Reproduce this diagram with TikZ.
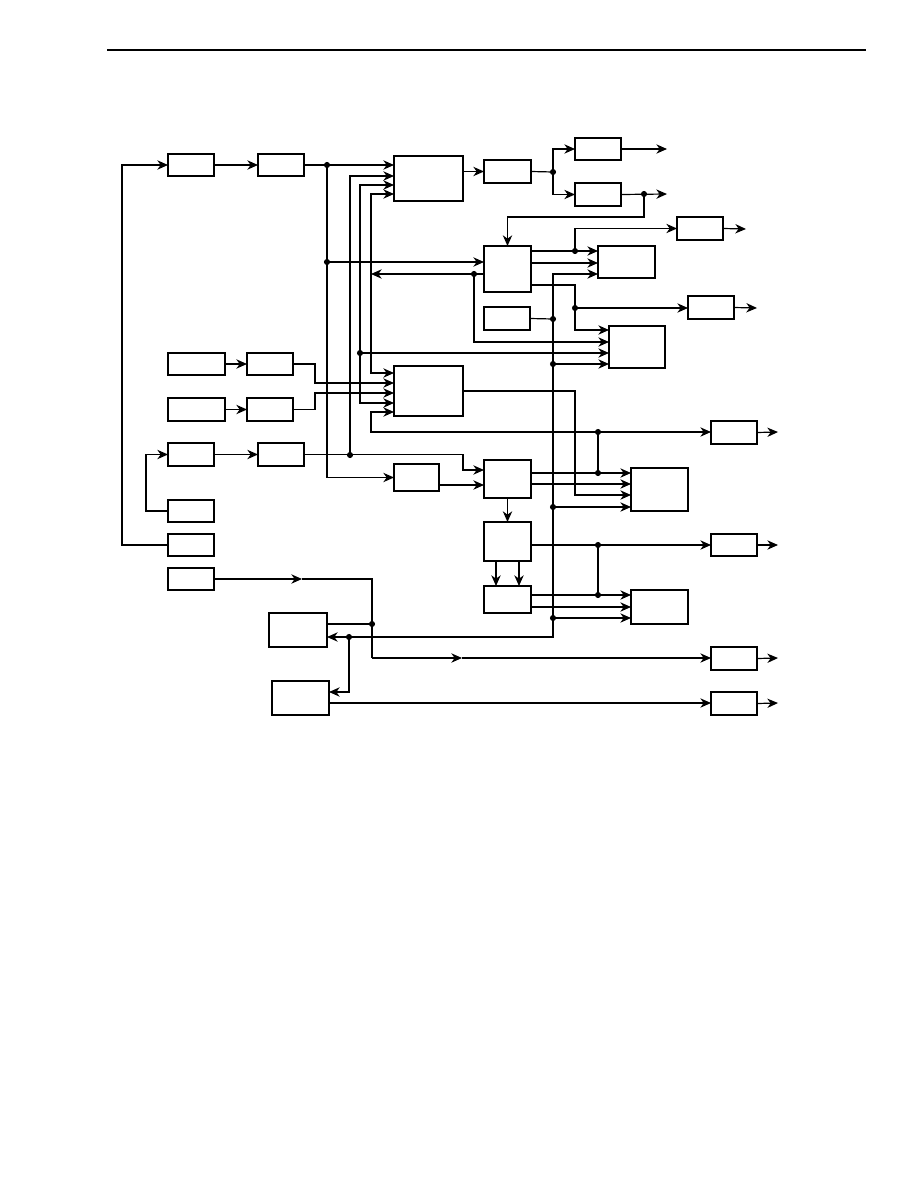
\documentclass[tikz,border=0pt]{standalone}
\usetikzlibrary{arrows.meta}
\begin{document}
\begin{tikzpicture}[x=0.75pt,y=-0.75pt,line width=0.9pt,
  box/.style 2 args={draw,rectangle,inner sep=0pt,outer sep=0pt,anchor=north west,
    minimum width=#1*0.75pt,minimum height=#2*0.75pt},
  arr/.style={-{Stealth[length=8pt,width=7pt,inset=2.5pt]}}]
\useasboundingbox (0,0) rectangle (918,1188);
\draw[line width=2.2pt] (107,50) -- (866,50);

% blocks, left column
\node[box={46}{22}] (A1) at (168,154) {};
\node[box={46}{22}] (A2) at (258,154) {};
\node[box={57}{22}] (P1) at (168,353) {};
\node[box={46}{22}] (P2) at (247,353) {};
\node[box={57}{23}] (Q1) at (168,398) {};
\node[box={46}{23}] (Q2) at (247,398) {};
\node[box={46}{23}] (S1) at (168,443) {};
\node[box={46}{23}] (S2) at (258,443) {};
\node[box={46}{22}] (S3) at (168,500) {};
\node[box={46}{22}] (Rt) at (168,534) {};
\node[box={46}{22}] (U) at (168,568) {};
\node[box={58}{34}] (K) at (269,613) {};
\node[box={57}{34}] (W) at (272,681) {};
% blocks, middle
\node[box={69}{45}] (B) at (394,156) {};
\node[box={69}{50}] (I) at (394,366) {};
\node[box={45}{27}] (T) at (394,464) {};
\node[box={47}{23}] (D) at (484,160) {};
\node[box={47}{46}] (C) at (484,246) {};
\node[box={46}{23}] (C2) at (484,307) {};
\node[box={47}{38}] (N) at (484,460) {};
\node[box={47}{39}] (Y) at (484,522) {};
\node[box={47}{27}] (AA) at (484,586) {};
% blocks, right
\node[box={46}{22}] (E1) at (575,138) {};
\node[box={46}{23}] (E2) at (575,183) {};
\node[box={57}{32}] (G) at (598,246) {};
\node[box={56}{42}] (J) at (609,326) {};
\node[box={57}{43}] (L) at (631,468) {};
\node[box={57}{34}] (M) at (631,590) {};
\node[box={46}{23}] (F1) at (677,217) {};
\node[box={46}{23}] (H) at (688,296) {};
\node[box={46}{23}] (R) at (711,421) {};
\node[box={46}{22}] (Z1) at (711,534) {};
\node[box={46}{23}] (V) at (711,647) {};
\node[box={46}{23}] (X) at (711,692) {};

% junctions
\coordinate (d1) at (327,165);
\coordinate (d2) at (327,262);
\coordinate (d3) at (350,455);
\coordinate (d4) at (360,353);
\coordinate (cL) at (371,274);
\coordinate (c1) at (474,274);
\coordinate (d5) at (553,172);
\coordinate (d6) at (644,194);
\coordinate (d7) at (575,251);
\coordinate (d8) at (575,308);
\coordinate (b1) at (553,319);
\coordinate (b2) at (553,364);
\coordinate (b3) at (553,507);
\coordinate (b4) at (553,618);
\coordinate (k1) at (349,637);
\coordinate (k2) at (372,624);
\coordinate (n1) at (598,473);
\coordinate (n2) at (598,432);
\coordinate (y1) at (598,545);
\coordinate (y2) at (598,595);
\coordinate (u1) at (372,579);
\coordinate (u2) at (372,658);
% outputs
\coordinate (o1) at (667,149);
\coordinate (o2) at (667,194);
\coordinate (o3) at (746,229);
\coordinate (o4) at (757,308);
\coordinate (o5) at (778,432);
\coordinate (o6) at (778,545);
\coordinate (o7) at (778,658);
\coordinate (o8) at (778,703);

% top chain
\draw[arr] (Rt.west) -- ++(-46,0) |- (A1.west);
\draw[arr] (A1) -- (A2);
\draw (A2.east) -- (d1);
\draw[arr] (d1) -- (B.west |- d1);
\draw[arr] (d1) |- (T.west);
\draw[arr] (d2) -- (C.west |- d2);
\draw[arr] (d3) |- (B.west |- 0,176);
\draw[arr] (d4) |- (B.west |- 0,185);
\draw[arr] (d4) |- (I.west |- 0,403);
\draw[arr] (d4) -- (J.west |- d4);
\draw[arr] (cL) |- (B.west |- 0,194);
\draw[arr] (cL) |- (I.west |- 0,373);
\draw[arr] (C.west |- c1) -- (cL);
\draw[arr] (c1) |- (J.west |- 0,342);
\draw[arr] (B.east |- D.west) -- (D.west);
\draw (D.east) -- (d5);
\draw[arr] (d5) |- (E1.west);
\draw[arr] (d5) |- (E2.west);
\draw[arr] (E1.east) -- (o1);
\draw[arr] (E2.east) -- (o2);
\draw[arr] (d6) |- (C.north |- 0,217) -- (C.north);

% second stage
\draw[arr] (C.east |- d7) -- (G.west |- d7);
\draw[arr] (d7) |- (F1.west);
\draw[arr] (C.east |- 0,263) -- (G.west |- 0,263);
\draw (C.east |- 0,285) -| (d8);
\draw[arr] (d8) -- (H.west |- d8);
\draw[arr] (d8) |- (J.west |- 0,330);
\draw[arr] (F1.east) -- (o3);
\draw[arr] (H.east) -- (o4);

% common bus
\draw (C2.east) -- (b1);
\draw[arr] (b1) |- (G.west |- 0,274);
\draw[arr] (b1) |- (K.east |- 0,637);
\draw[arr] (b2) -- (J.west |- b2);
\draw[arr] (b3) -- (L.west |- b3);
\draw[arr] (b4) -- (M.west |- b4);
\draw[arr] (k1) |- (W.east |- 0,692);

% lower inputs
\draw[arr] (P1) -- (P2);
\draw[arr] (Q1) -- (Q2);
\draw[arr] (S1) -- (S2);
\draw[arr] (P2.east) -- ++(22,0) |- (I.west |- 0,383);
\draw[arr] (Q2.east) -- ++(22,0) |- (I.west |- 0,393);
\draw[arr] (S3.west) -- ++(-22,0) |- (S1.west);
\draw[arr] (S2.east) -| (I.east |- 0,470) -- (N.west |- 0,470);
\draw[arr] (T.east |- 0,485) -- (N.west |- 0,485);
\draw[arr] (I.east |- 0,391) -| (d8 |- 0,495) -- (L.west |- 0,495);
\draw[arr] (N.east |- n1) -- (L.west |- n1);
\draw (n1) -- (n2);
\draw[arr] (n2) -- (R.west |- n2);
\draw[arr] (n2) -| (cL |- 0,412) -- (I.west |- 0,412);
\draw[arr] (N.east |- 0,484) -- (L.west |- 0,484);
\draw[arr] (R.east) -- (o5);

% third stage
\draw[arr] (N.south) -- (Y.north);
\draw[arr] (Y.east |- y1) -- (Z1.west |- y1);
\draw (y1) -- (y2);
\draw[arr] (Z1.east) -- (o6);
\draw[arr] (Y.south -| 496,0) -- (AA.north -| 496,0);
\draw[arr] (Y.south -| 519,0) -- (AA.north -| 519,0);
\draw[arr] (AA.east |- y2) -- (M.west |- y2);
\draw[arr] (AA.east |- 0,607) -- (M.west |- 0,607);

% bottom lines
\draw[arr] (U.east) -- (302,579);
\draw (302,579) -- (u1) -- (u2);
\draw[arr] (u2) -- (462,658);
\draw[arr] (462,658) -- (V.west |- u2);
\draw (K.east |- k2) -- (k2);
\draw[arr] (W.east |- 0,703) -- (X.west |- 0,703);
\draw[arr] (V.east) -- (o7);
\draw[arr] (X.east) -- (o8);

\foreach \p in {d1,d2,d3,d4,c1,d5,d6,d7,d8,b1,b2,b3,b4,k1,k2,n1,n2,y1,y2}
  \fill (\p) circle (2.3pt);
\end{tikzpicture}
\end{document}
